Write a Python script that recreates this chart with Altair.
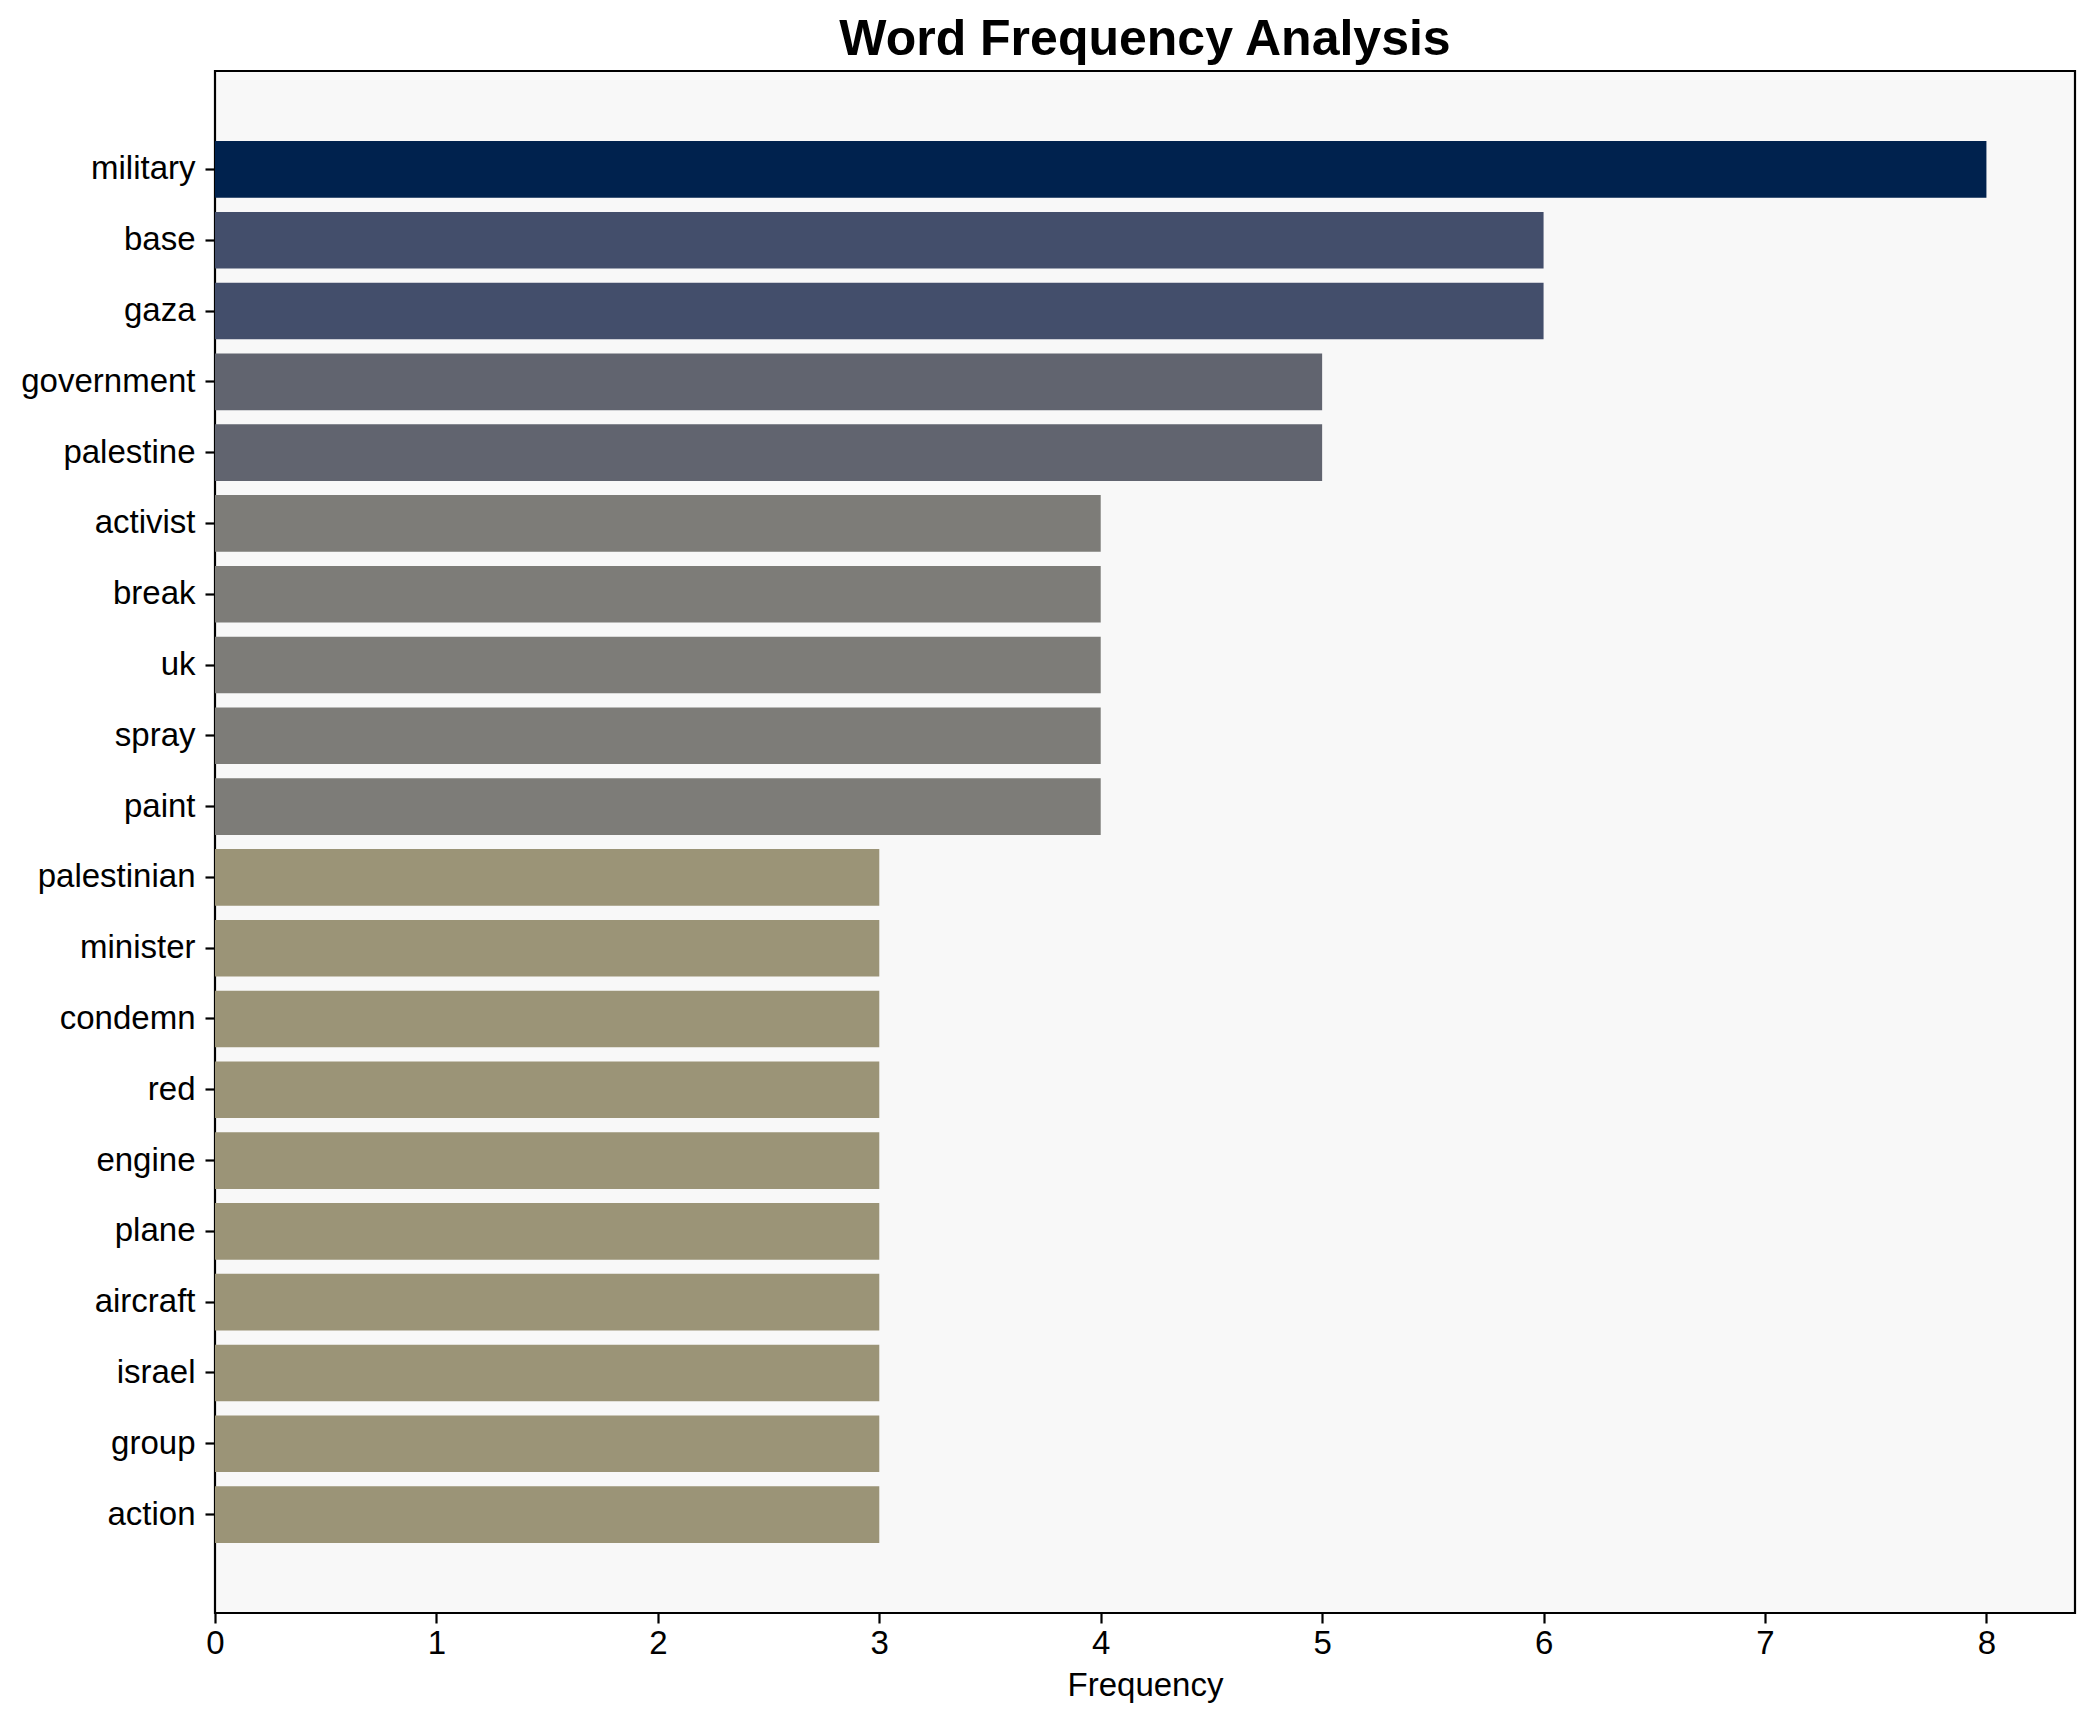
import altair as alt
import pandas as pd

words = ["military", "base", "gaza", "government", "palestine", "activist", "break",
         "uk", "spray", "paint", "palestinian", "minister", "condemn", "red", "engine",
         "plane", "aircraft", "israel", "group", "action"]
freqs = [8, 6, 6, 5, 5, 4, 4, 4, 4, 4, 3, 3, 3, 3, 3, 3, 3, 3, 3, 3]

color_domain = [3, 4, 5, 6, 8]
color_range = ["#9b9477", "#7d7c78", "#61646f", "#434e6b", "#00224e"]

df = pd.DataFrame({"word": words, "freq": freqs})

FONT = "Liberation Sans"

chart = (
    alt.Chart(df)
    .mark_bar()
    .encode(
        y=alt.Y("word:N", sort=words,
                scale=alt.Scale(paddingInner=0.2, paddingOuter=0.99),
                axis=alt.Axis(title=None, labelFontSize=33, labelFont=FONT, labelColor="black",
                              tickSize=10, tickWidth=2.2, tickColor="black",
                              labelPadding=10, domain=False, grid=False)),
        x=alt.X("freq:Q",
                scale=alt.Scale(domain=[0, 8.4], nice=False, zero=True),
                axis=alt.Axis(title="Frequency", values=[0, 1, 2, 3, 4, 5, 6, 7, 8],
                              format="d", labelFontSize=33, labelFont=FONT, labelColor="black",
                              labelFlush=False,
                              titleFontSize=33, titleFont=FONT, titleFontWeight="normal",
                              titleColor="black", titlePadding=9,
                              tickSize=10, tickWidth=2.2, tickColor="black",
                              labelPadding=4, domain=False, grid=False)),
        color=alt.Color("freq:Q", legend=None,
                        scale=alt.Scale(type="ordinal", domain=color_domain, range=color_range)),
    )
    .properties(
        width=1860,
        height=1542,
        title=alt.TitleParams("Word Frequency Analysis", fontSize=50, font=FONT,
                              fontWeight="bold", color="black", anchor="middle",
                              offset=6),
        autosize=alt.AutoSizeParams(type="none"),
        padding={"left": 207, "top": 63, "right": 12, "bottom": 101},
    )
    .configure(background="white")
    .configure_view(fill="#f8f8f8", stroke="black", strokeWidth=2.2)
)

chart.save("out.html", embed_options={"renderer": "svg", "actions": False})
